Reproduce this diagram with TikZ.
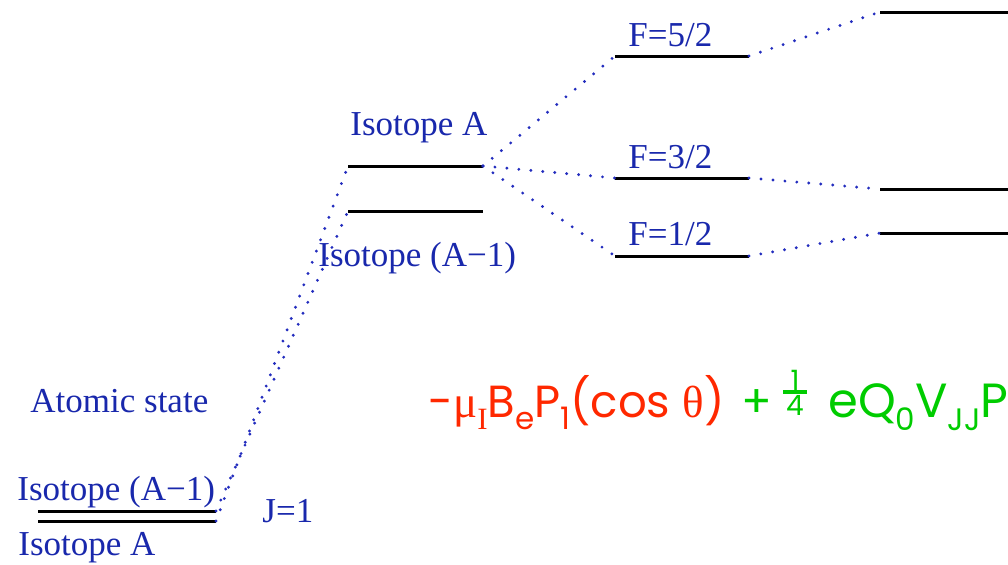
\documentclass[tikz,border=0pt]{standalone}
\usepackage{fontspec}
\setmainfont{Liberation Serif}
\newfontfamily\comic{Poppins}
\newfontfamily\symf{Liberation Serif}
\definecolor{labblue}{RGB}{25,40,172}
\definecolor{dotblue}{RGB}{35,45,190}
\definecolor{fred}{RGB}{255,40,0}
\definecolor{fgreen}{RGB}{0,204,0}
\newcommand\sbs[1]{\raisebox{-0.28em}{\fontsize{15.5}{15.5}\selectfont #1}}
\begin{document}
\begin{tikzpicture}[x=0.5pt,y=-0.5pt,
  level/.style={line width=1.5pt, draw=black},
  link/.style={draw=dotblue, line width=1.6pt, line cap=round, dash pattern=on 0pt off 6pt},
  lbl/.style={text=labblue, inner sep=0pt, anchor=base west, font=\fontsize{17.5}{20}\selectfont},
  formula/.style={inner sep=0pt, anchor=base west, font=\comic\fontsize{22.5}{26}\selectfont},
  fdigit/.style={inner sep=0pt, text=fgreen, font=\comic\fontsize{14}{15}\selectfont}]
\useasboundingbox (0,0) rectangle (1008,564);
\clip (0,0) rectangle (1008,564);
% level end points
\coordinate (bA1L) at (38,511);  \coordinate (bA1R) at (216,511);
\coordinate (bAL) at (38,521);   \coordinate (bAR) at (216,521);
\coordinate (mAL) at (348,166);  \coordinate (mAR) at (483,166);
\coordinate (mA1L) at (348,211); \coordinate (mA1R) at (483,211);
\coordinate (f5L) at (615,56);   \coordinate (f5R) at (749,56);
\coordinate (f3L) at (615,178);  \coordinate (f3R) at (749,178);
\coordinate (f1L) at (615,256);  \coordinate (f1R) at (749,256);
\coordinate (r5L) at (880,12);   \coordinate (r5R) at (1012,12);
\coordinate (r3L) at (880,189);  \coordinate (r3R) at (1012,189);
\coordinate (r1L) at (880,233);  \coordinate (r1R) at (1012,233);
% levels
\foreach \a/\b in {bA1L/bA1R,bAL/bAR,mAL/mAR,mA1L/mA1R,f5L/f5R,f3L/f3R,f1L/f1R,r5L/r5R,r3L/r3R,r1L/r1R}
  \draw[level] (\a) -- (\b);
% dotted connectors
\draw[link] (bAR) -- (mAL);
\draw[link] (bA1R) -- (mA1L);
\draw[link] (mAR) -- (f5L);
\draw[link] (mAR) -- (f3L);
\draw[link] (mAR) -- (f1L);
\draw[link] (f5R) -- (r5L);
\draw[link] (f3R) -- (r3L);
\draw[link] (f1R) -- (r1L);
% labels
\node[lbl] (tA1b) at (17,500) {Isotope (A\char"2212 1)};
\node[lbl] (tAb) at (18,555) {Isotope A};
\node[lbl] (tJ) at (262,522) {J=1};
\node[lbl] (tAtom) at (30,412) {Atomic state};
\node[lbl] (tAm) at (350,135) {Isotope A};
\node[lbl] (tA1m) at (318,266) {Isotope (A\char"2212 1)};
\node[lbl] (tF5) at (628,46) {F=5/2};
\node[lbl] (tF3) at (628,168) {F=3/2};
\node[lbl] (tF1) at (628,245) {F=1/2};
% formula
\node[formula, text=fred] (fr) at (428,417) {-{\symf μ}\sbs{\symf I}B\sbs{e}P\sbs{1}(cos {\symf θ})};
\node[formula, text=fgreen] (fplus) at (741,417) {+};
\node[fdigit] (fnum) at (795,380) {1};
\node[fdigit] (fden) at (795,405) {4};
\draw[fgreen, line width=1.8pt] (783,392) -- (807,392);
\node[formula, text=fgreen, font=\comic\fontsize{24}{28}\selectfont] (fg) at (828,417) {eQ\sbs{0}V\sbs{JJ}P};
\end{tikzpicture}
\end{document}
